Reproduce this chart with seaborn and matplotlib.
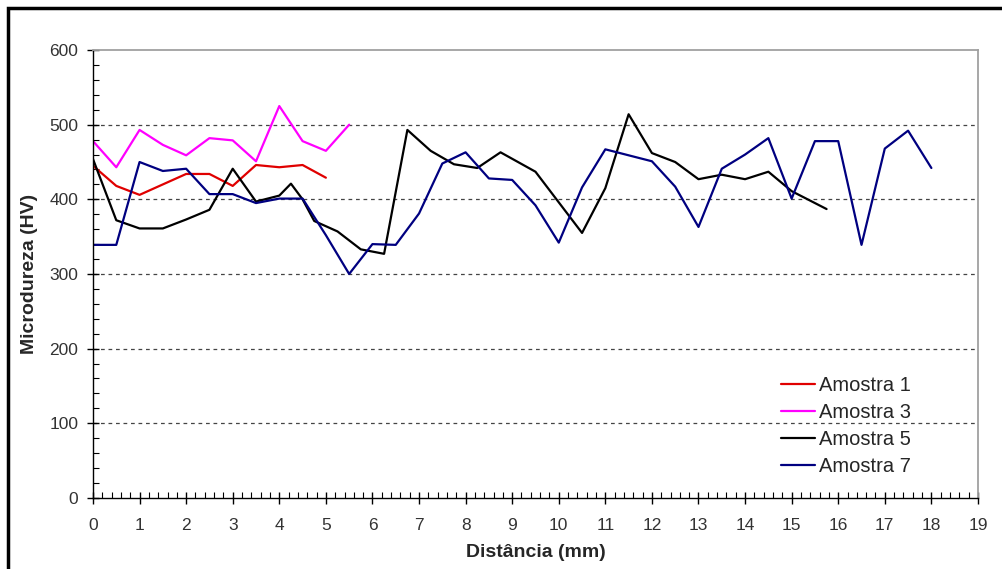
import pandas as pd
import numpy as np
import matplotlib.pyplot as plt
import matplotlib.patches as mpatches
from matplotlib.ticker import MultipleLocator
import seaborn as sns

# ------------------------------------------------------------
# Dados (microdureza x distancia)
# ------------------------------------------------------------
x_am1 = [0, 0.5, 1, 1.5, 2, 2.5, 3, 3.5, 4, 4.5, 5]
y_am1 = [445, 418, 406, 420, 434, 434, 418, 446, 443, 446, 429]

x_am3 = [0, 0.5, 1, 1.5, 2, 2.5, 3, 3.5, 4, 4.5, 5, 5.5]
y_am3 = [478, 443, 493, 473, 459, 482, 479, 451, 525, 478, 465, 500]

x_am5 = [0, 0.5, 1, 1.5, 2, 2.5, 3, 3.5, 4, 4.25, 4.5, 4.75, 5.25, 5.75,
         6.25, 6.75, 7.25, 7.75, 8.25, 8.75, 9.5, 10.5, 11, 11.5, 12, 12.5,
         13, 13.5, 14, 14.5, 15, 15.75]
y_am5 = [454, 372, 361, 361, 373, 386, 441, 397, 405, 421, 400, 371, 357, 333,
         327, 493, 465, 447, 442, 463, 437, 355, 415, 514, 462, 450,
         427, 433, 427, 437, 411, 387]

x_am7 = [0, 0.5, 1, 1.5, 2, 2.5, 3, 3.5, 4, 4.5, 5, 5.5, 6, 6.5, 7, 7.5, 8,
         8.5, 9, 9.5, 10, 10.5, 11, 11.5, 12, 12.5, 13, 13.5, 14, 14.5, 15,
         15.5, 16, 16.5, 17, 17.5, 18]
y_am7 = [339, 339, 450, 438, 441, 407, 407, 395, 401, 401, 352, 300, 340, 339,
         381, 448, 463, 428, 426, 392, 342, 416, 467, 459, 451, 417, 363,
         441, 460, 482, 401, 478, 478, 339, 468, 492, 442]

series = ["Amostra 1", "Amostra 3", "Amostra 5", "Amostra 7"]
colors = ["#e00000", "#ff00ff", "#000000", "#000080"]

frames = []
for nome, xs, ys in zip(series, [x_am1, x_am3, x_am5, x_am7],
                        [y_am1, y_am3, y_am5, y_am7]):
    frames.append(pd.DataFrame({"dist": xs, "hv": ys, "serie": nome}))
df = pd.concat(frames, ignore_index=True)

# ------------------------------------------------------------
# Grafico
# ------------------------------------------------------------
sns.set_style("white")
plt.rcParams["font.family"] = ["Liberation Sans", "DejaVu Sans"]

fig = plt.figure(figsize=(10.02, 5.69), dpi=100)
ax = fig.add_axes([0.0928, 0.125, 0.8832, 0.787])

sns.lineplot(data=df, x="dist", y="hv", hue="serie", palette=colors,
             estimator=None, sort=False, linewidth=1.6, ax=ax)

ax.set_xlim(0, 19)
ax.set_ylim(0, 600)
ax.xaxis.set_major_locator(MultipleLocator(1))
ax.xaxis.set_minor_locator(MultipleLocator(0.2))
ax.yaxis.set_major_locator(MultipleLocator(100))
ax.yaxis.set_minor_locator(MultipleLocator(20))

ax.tick_params(axis="both", which="major", direction="inout", length=9,
               width=1, color="black", labelsize=12.5, labelcolor="#333333")
ax.tick_params(axis="x", which="major", pad=10)
ax.tick_params(axis="y", which="major", pad=6)
ax.tick_params(axis="both", which="minor", direction="in", length=4,
               width=0.8, color="black")
ax.tick_params(bottom=True, left=True, which="both")

# grade tracejada
for yv in [100, 200, 300, 400, 500]:
    ax.axhline(yv, color="#444444", linestyle=(0, (3, 3)), linewidth=0.9,
               zorder=0)

for s in ["left", "bottom"]:
    ax.spines[s].set_color("black")
    ax.spines[s].set_linewidth(1)
for s in ["top", "right"]:
    ax.spines[s].set_color("#a0a0a0")
    ax.spines[s].set_linewidth(1.3)

ax.set_xlabel("Distância (mm)", fontsize=14, fontweight="bold", labelpad=8)
ax.set_ylabel("Microdureza (HV)", fontsize=14, fontweight="bold", labelpad=8)

handles, labels = ax.get_legend_handles_labels()
ax.legend(handles, labels, loc="upper left", bbox_to_anchor=(0.768, 0.29),
          frameon=False, fontsize=14.5, handlelength=1.7, handletextpad=0.2,
          labelspacing=0.4, borderaxespad=0)

# moldura externa (cortada a direita e embaixo)
fig.patches.append(mpatches.Rectangle((8 / 1002, -0.2), 1.5, 1.2 - 8 / 569,
                                      transform=fig.transFigure, fill=False,
                                      edgecolor="black", linewidth=2.5))

plt.savefig("out.png", dpi=100)
